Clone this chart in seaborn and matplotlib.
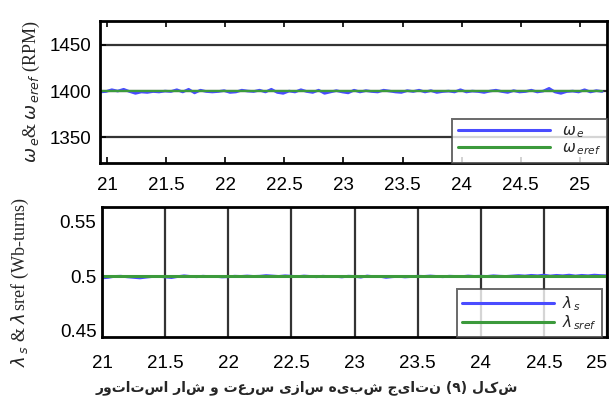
import numpy as np
import pandas as pd
import matplotlib
matplotlib.use("Agg")
import matplotlib.pyplot as plt
import seaborn as sns

# ---- data -------------------------------------------------------------
# rotor speed (RPM), sampled every 0.05 s starting at t = 20.94 s
speed_t0, speed_dt = 20.94, 0.05
omega_e = [
    1399.0, 1399.5, 1401.5, 1400.0, 1402.0, 1399.5, 1397.5, 1399.0, 1398.5, 1399.5,
    1399.0, 1400.0, 1399.5, 1401.5, 1399.0, 1402.0, 1398.0, 1401.0, 1399.5, 1399.0,
    1399.5, 1400.5, 1398.5, 1399.0, 1401.0, 1400.0, 1399.5, 1401.0, 1399.0, 1402.0,
    1398.5, 1397.5, 1400.0, 1399.0, 1401.5, 1399.5, 1398.5, 1401.0, 1397.5, 1399.0,
    1400.5, 1399.0, 1398.0, 1401.0, 1399.0, 1400.5, 1399.5, 1399.0, 1401.0, 1400.0,
    1399.0, 1398.5, 1400.5, 1399.5, 1401.0, 1399.0, 1400.5, 1398.5, 1399.5, 1400.0,
    1399.0, 1401.5, 1399.0, 1400.0, 1399.5, 1398.5, 1400.0, 1401.0, 1399.5, 1398.5,
    1400.5, 1399.0, 1399.5, 1401.0, 1399.0, 1400.0, 1403.0, 1399.0, 1397.5, 1399.5,
    1400.0, 1399.0, 1401.5, 1399.0, 1400.5, 1399.5,
]
omega_ref = 1400.0

# stator flux (Wb-turns), sampled every 0.05 s starting at t = 21.0 s
flux_t0, flux_dt = 21.0, 0.05
lambda_s = [
    0.4985, 0.4990, 0.5000, 0.5002, 0.4995, 0.4990, 0.4985, 0.4992, 0.4998, 0.5000,
    0.4994, 0.4988, 0.4998, 0.5006, 0.5000, 0.4996, 0.5002, 0.4998, 0.5000, 0.4994,
    0.4996, 0.5002, 0.5000, 0.5004, 0.5000, 0.5002, 0.5008, 0.5004, 0.5000, 0.5006,
    0.5002, 0.4998, 0.5004, 0.5000, 0.4996, 0.5002, 0.4998, 0.5000, 0.4994, 0.5002,
    0.5000, 0.4992, 0.5004, 0.4998, 0.5000, 0.4990, 0.4996, 0.5000, 0.4994, 0.4998,
    0.5002, 0.5000, 0.5004, 0.5000, 0.4996, 0.5002, 0.5000, 0.4998, 0.5004, 0.5000,
    0.5002, 0.5000, 0.5006, 0.5002, 0.5000, 0.5004, 0.5008, 0.5004, 0.5010, 0.5006,
    0.5012, 0.5004, 0.5010, 0.5006, 0.5012, 0.5004, 0.5010, 0.5006, 0.5012, 0.5008,
    0.5006,
]
lambda_ref = 0.5

x_ticks = [21, 21.5, 22, 22.5, 23, 23.5, 24, 24.5, 25]
x_tick_labels = ["21", "21.5", "22", "22.5", "23", "23.5", "24", "24.5", "25"]
speed_ticks = [1350, 1400, 1450]
flux_ticks = [0.45, 0.5, 0.55]
flux_tick_labels = ["0.45", "0.5", "0.55"]

caption = "شکل (۹) نتایج شبیه سازی سرعت و شار استاتور"

# ---- tables -----------------------------------------------------------
t_speed = speed_t0 + speed_dt * np.arange(len(omega_e))
t_flux = flux_t0 + flux_dt * np.arange(len(lambda_s))
speed_df = pd.DataFrame({"t": t_speed, "omega": omega_e})
speed_ref_df = pd.DataFrame({"t": [t_speed[0], t_speed[-1]], "omega": [omega_ref, omega_ref]})
flux_df = pd.DataFrame({"t": t_flux, "lam": lambda_s})
flux_ref_df = pd.DataFrame({"t": [t_flux[0], t_flux[-1]], "lam": [lambda_ref, lambda_ref]})

# ---- style ------------------------------------------------------------
sns.set_theme(style="white")
plt.rcParams["font.family"] = ["Liberation Sans", "DejaVu Sans"]
BLUE = "#4a4cff"
GREEN = "#3c9a3c"
W, H = 613, 397
fig = plt.figure(figsize=(W / 100, H / 100), dpi=100)
fig.patch.set_facecolor("white")


def px_axes(left, top, right, bottom):
    return fig.add_axes([left / W, 1 - bottom / H, (right - left) / W, (bottom - top) / H])


def style_box(ax):
    for sp in ax.spines.values():
        sp.set_visible(True)
        sp.set_color("black")
        sp.set_linewidth(2.0)
    ax.set_facecolor("white")


def rtl(text):
    # matplotlib lays glyphs out left to right, so flip the order and the brackets
    swap = {"(": ")", ")": "("}
    return "".join(swap.get(c, c) for c in text[::-1])


# ---- speed panel ------------------------------------------------------
ax1 = px_axes(100, 21, 607, 163)
style_box(ax1)
sns.lineplot(data=speed_df, x="t", y="omega", ax=ax1, color=BLUE, lw=1.9,
             label=r"$\omega_{\,e}$")
sns.lineplot(data=speed_ref_df, x="t", y="omega", ax=ax1, color=GREEN, lw=1.6,
             label=r"$\omega_{\,eref}$")
ax1.set_xlim(20.94, 25.23)
ax1.set_ylim(1322, 1476)
ax1.set_xticks(x_ticks, x_tick_labels)
ax1.set_yticks(speed_ticks, [str(v) for v in speed_ticks])
ax1.grid(axis="y", color="#333333", lw=1.6)
ax1.grid(axis="x", visible=False)
ax1.tick_params(axis="both", which="both", direction="in", length=4, width=1.2,
                colors="black", labelsize=13.5, top=True, bottom=True, left=True, pad=6)
ax1.tick_params(axis="x", pad=10)
ax1.set_xlabel("")
ax1.set_ylabel(r"$\omega_{\,e}$& $\omega_{\,eref}$ (RPM)", family="Liberation Serif",
               fontsize=13, labelpad=6)
leg1 = ax1.legend(loc="lower right", borderaxespad=0.0, fontsize=11, frameon=True,
                  fancybox=False, edgecolor="#444444", handlelength=6.0,
                  labelspacing=0.05, borderpad=0.4, handletextpad=0.8)
leg1.get_frame().set_linewidth(1.4)
for h in leg1.get_lines():
    h.set_linewidth(2.2)

# ---- flux panel -------------------------------------------------------
ax2 = px_axes(102, 207, 607, 337)
style_box(ax2)
sns.lineplot(data=flux_df, x="t", y="lam", ax=ax2, color=BLUE, lw=1.9,
             label=r"$\lambda_{\,s}$")
sns.lineplot(data=flux_ref_df, x="t", y="lam", ax=ax2, color=GREEN, lw=2.2,
             label=r"$\lambda_{\,sref}$")
ax2.set_xlim(21.0, 24.99)
ax2.set_ylim(0.4445, 0.5635)
ax2.set_xticks(x_ticks, x_tick_labels)
ax2.set_yticks(flux_ticks, flux_tick_labels)
ax2.grid(axis="x", color="#333333", lw=1.6)
ax2.grid(axis="y", visible=False)
ax2.tick_params(axis="both", which="both", length=0, colors="black", labelsize=13.5)
ax2.tick_params(axis="x", pad=13)
ax2.tick_params(axis="y", pad=4)
ax2.get_xticklabels()[-1].set_horizontalalignment("right")
ax2.set_xlabel("")
ax2.set_ylabel(r"$\lambda_{\,s}$ & $\lambda_{\,}$sref (Wb-turns)", family="Liberation Serif",
               fontsize=13, labelpad=8)
ax2.yaxis.set_label_coords(-0.14, 0.42)
leg2 = ax2.legend(loc="lower right", bbox_to_anchor=(0.99, 0.0), borderaxespad=0.0,
                  fontsize=11, frameon=True, fancybox=False, edgecolor="#444444",
                  handlelength=6.0, labelspacing=0.0, borderpad=0.35, handletextpad=0.5)
leg2.get_frame().set_linewidth(1.4)
for h in leg2.get_lines():
    h.set_linewidth(2.2)

# ---- caption ---------------------------------------------------------
fig.text(0.5, 0.004, rtl(caption), ha="center", va="bottom", fontsize=10,
         family=["DejaVu Sans"], fontweight="bold")

fig.savefig("out.png", dpi=100, facecolor="white")
